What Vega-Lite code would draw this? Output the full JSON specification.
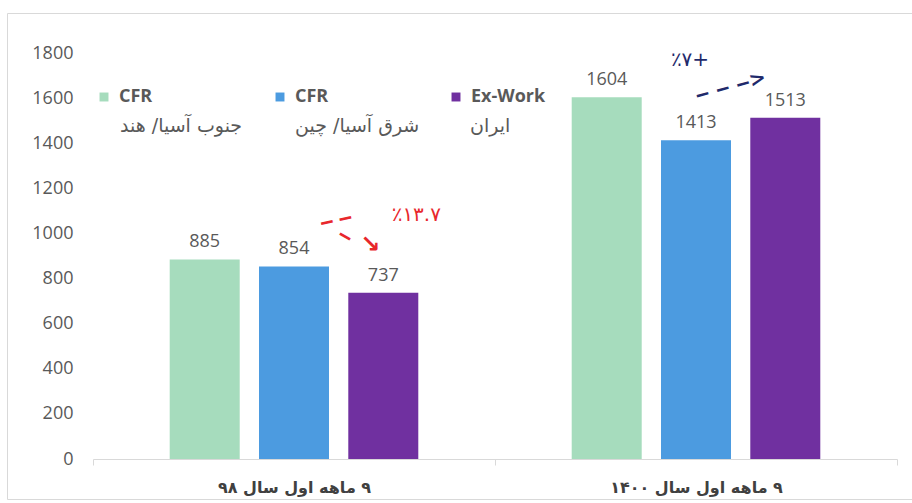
{
  "$schema": "https://vega.github.io/schema/vega-lite/v6.json",
  "autosize": {"type": "none"},
  "padding": {"left": 7, "top": 13, "right": 0, "bottom": 4},
  "width": 905,
  "height": 486,
  "background": "#ffffff",
  "config": {
    "view": {"stroke": "#d9d9d9", "strokeWidth": 1},
    "font": "Open Sans, DejaVu Sans"
  },
  "datasets": {
    "bars": [
      {"period": "۹ ماهه اول سال ۹۸", "series": "CFR|جنوب آسیا/ هند", "region": "جنوب آسیا/ هند", "value": 885},
      {"period": "۹ ماهه اول سال ۹۸", "series": "CFR|شرق آسیا/ چین", "region": "شرق آسیا/ چین", "value": 854},
      {"period": "۹ ماهه اول سال ۹۸", "series": "Ex-Work|ایران", "region": "ایران", "value": 737},
      {"period": "۹ ماهه اول سال ۱۴۰۰", "series": "CFR|جنوب آسیا/ هند", "region": "جنوب آسیا/ هند", "value": 1604},
      {"period": "۹ ماهه اول سال ۱۴۰۰", "series": "CFR|شرق آسیا/ چین", "region": "شرق آسیا/ چین", "value": 1413},
      {"period": "۹ ماهه اول سال ۱۴۰۰", "series": "Ex-Work|ایران", "region": "ایران", "value": 1513}
    ]
  },
  "encoding": {
    "x": {
      "field": "period", "type": "nominal",
      "sort": ["۹ ماهه اول سال ۹۸", "۹ ماهه اول سال ۱۴۰۰"],
      "scale": {"range": [86, 890], "paddingInner": 0, "paddingOuter": 0},
      "axis": {
        "title": null, "labelAngle": 0, "offset": -40,
        "labelExpr": "'\u200f' + datum.label",
        "labelFont": "DejaVu Sans", "labelFontSize": 16, "labelFontWeight": "bold", "labelColor": "#404040",
        "labelPadding": 14, "tickBand": "extent", "tickSize": 6,
        "tickColor": "#d9d9d9", "domainColor": "#d9d9d9", "grid": false
      }
    },
    "xOffset": {
      "field": "series", "type": "nominal",
      "sort": ["CFR|جنوب آسیا/ هند", "CFR|شرق آسیا/ چین", "Ex-Work|ایران"],
      "scale": {"paddingInner": 0.216, "paddingOuter": 0.859}
    },
    "y": {
      "field": "value", "type": "quantitative",
      "scale": {"domain": [0, 1800], "range": [446, 40], "nice": false},
      "axis": {
        "title": null, "values": [0, 200, 400, 600, 800, 1000, 1200, 1400, 1600, 1800], "format": "d",
        "domain": false, "ticks": false, "grid": false, "offset": -68, "labelPadding": 2,
        "labelFont": "Open Sans", "labelFontSize": 18, "labelColor": "#595959"
      }
    }
  },
  "layer": [
    {
      "data": {"name": "bars"},
      "mark": {"type": "bar", "strokeWidth": 0},
      "encoding": {
        "fill": {
          "field": "series", "type": "nominal",
          "scale": {
            "domain": ["CFR|جنوب آسیا/ هند", "CFR|شرق آسیا/ چین", "Ex-Work|ایران"],
            "range": ["#a6dcbd", "#4c9be0", "#7030a0"]
          },
          "legend": {
            "orient": "none", "legendX": 88, "legendY": 75, "direction": "horizontal",
            "title": null, "padding": 0, "symbolType": "square", "symbolSize": 80, "symbolStrokeWidth": 0,
            "labelOffset": 6, "columnPadding": 118,
            "labelExpr": "split(datum.label, '|')[0]",
            "labelFont": "Open Sans", "labelFontSize": 18, "labelFontWeight": "bold", "labelColor": "#595959"
          }
        },
        "stroke": {
          "field": "region", "type": "nominal",
          "scale": {
            "domain": ["جنوب آسیا/ هند", "شرق آسیا/ چین", "ایران"],
            "range": ["#ffffff", "#ffffff", "#ffffff"]
          },
          "legend": {
            "orient": "none", "legendX": 88, "legendY": 103, "direction": "horizontal",
            "title": null, "padding": 0, "symbolType": "square", "symbolSize": 80, "symbolOpacity": 0,
            "labelOffset": 6, "columnPadding": 25, "gridAlign": "all",
            "labelFont": "DejaVu Sans", "labelFontSize": 19, "labelColor": "#595959"
          }
        }
      }
    },
    {
      "data": {"name": "bars"},
      "mark": {"type": "text", "baseline": "bottom", "dy": -8, "font": "Open Sans", "fontSize": 18, "fill": "#595959"},
      "encoding": {"text": {"field": "value", "type": "quantitative"}}
    },
    {
      "data": {"values": [{"period": "۹ ماهه اول سال ۹۸", "series": "Ex-Work|ایران", "value": 1082, "label": "٪۱۳.۷"}]},
      "mark": {"type": "text", "dx": 33, "font": "DejaVu Sans", "fontSize": 20, "fill": "#e8272c"},
      "encoding": {"text": {"field": "label"}}
    },
    {
      "data": {"values": [{"period": "۹ ماهه اول سال ۹۸", "series": "CFR|شرق آسیا/ چین", "value": 1020, "label": "‒ ‒"}]},
      "mark": {"type": "text", "dx": 43, "angle": -12, "fontWeight": "bold", "fontSize": 20, "fill": "#e8272c"},
      "encoding": {"text": {"field": "label"}}
    },
    {
      "data": {"values": [{"period": "۹ ماهه اول سال ۹۸", "series": "Ex-Work|ایران", "value": 891, "label": "‒"}]},
      "mark": {"type": "text", "dx": -44, "angle": 30, "fontWeight": "bold", "fontSize": 20, "fill": "#e8272c"},
      "encoding": {"text": {"field": "label"}}
    },
    {
      "data": {"values": [{"period": "۹ ماهه اول سال ۹۸", "series": "Ex-Work|ایران", "value": 949, "label": "↘"}]},
      "mark": {"type": "text", "dx": -13, "font": "DejaVu Sans", "fontWeight": "bold", "fontSize": 24, "fill": "#e8272c"},
      "encoding": {"text": {"field": "label"}}
    },
    {
      "data": {"values": [{"period": "۹ ماهه اول سال ۱۴۰۰", "series": "CFR|شرق آسیا/ چین", "value": 1769, "label": "٪۷+"}]},
      "mark": {"type": "text", "dx": -6, "font": "DejaVu Sans", "fontSize": 20, "fill": "#1f2a6b"},
      "encoding": {"text": {"field": "label"}}
    },
    {
      "data": {"values": [{"period": "۹ ماهه اول سال ۱۴۰۰", "series": "CFR|شرق آسیا/ چین", "value": 1610, "label": "‒ ‒ ‒>"}]},
      "mark": {"type": "text", "dx": 36, "angle": -15, "font": "DejaVu Sans", "fontWeight": "bold", "fontSize": 20, "fill": "#1f2a6b"},
      "encoding": {"text": {"field": "label"}}
    }
  ]
}
